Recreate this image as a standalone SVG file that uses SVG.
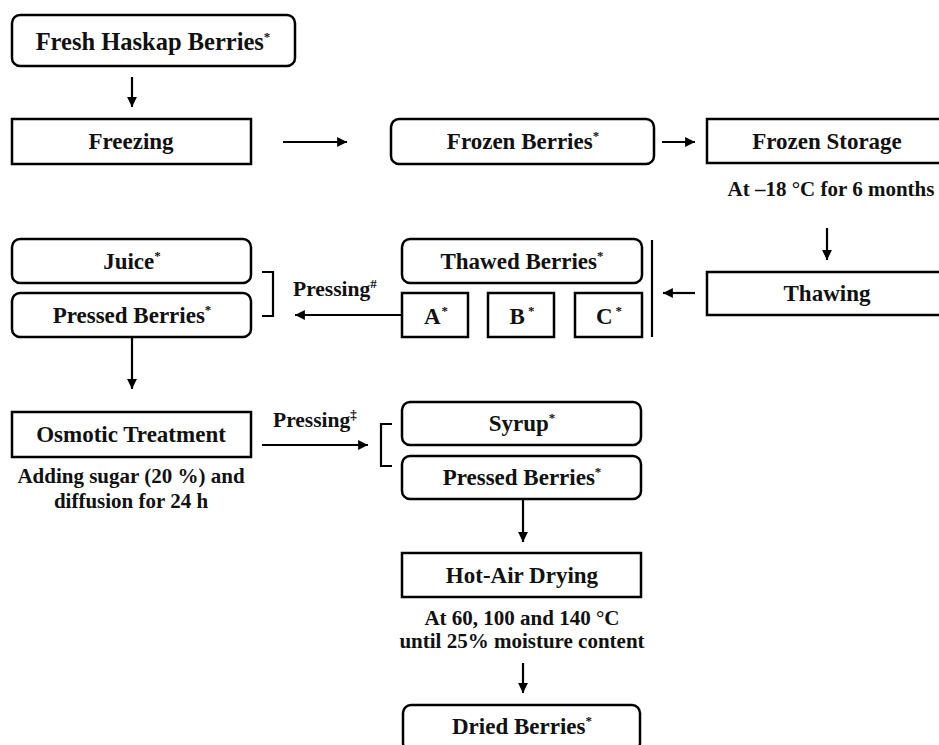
<svg xmlns="http://www.w3.org/2000/svg" width="939" height="745" viewBox="0 0 939 745">
<style>
.b{fill:#fff;stroke:#000;stroke-width:2.5}
.t{font-size:23px;fill:#111;text-anchor:middle}
.s{font-size:21px;fill:#111;text-anchor:middle}
.l{font-size:21.5px;fill:#111}
.sup{font-size:13px}
.c{fill:none;stroke:#000;stroke-width:2.2}
</style>
<defs>
<marker id="ah" viewBox="0 0 10 10" refX="10" refY="5" markerWidth="5" markerHeight="4.5" orient="auto" markerUnits="strokeWidth">
<path d="M0,0 L10,5 L0,10 z" fill="#000"/>
</marker>
</defs>
<rect width="939" height="745" fill="#fff"/>

<g id="connectors">
<line class="c" x1="132" y1="77" x2="132" y2="107" marker-end="url(#ah)"/>
<line class="c" x1="283" y1="142" x2="347" y2="142" marker-end="url(#ah)"/>
<line class="c" x1="662" y1="142" x2="695" y2="142" marker-end="url(#ah)"/>
<line class="c" x1="827" y1="228" x2="827" y2="260" marker-end="url(#ah)"/>
<line class="c" x1="695" y1="293" x2="663" y2="293" marker-end="url(#ah)"/>
<line class="c" x1="652" y1="240" x2="652" y2="337" stroke-width="2.5"/>
<line class="c" x1="402" y1="315" x2="295" y2="315" marker-end="url(#ah)"/>
<path class="c" d="M262,272 H273 V316 H262"/>
<line class="c" x1="132" y1="337" x2="132" y2="389" marker-end="url(#ah)"/>
<line class="c" x1="262" y1="445" x2="368" y2="445" marker-end="url(#ah)"/>
<path class="c" d="M392,424 H381 V466 H392"/>
<line class="c" x1="523" y1="499" x2="523" y2="542" marker-end="url(#ah)"/>
<line class="c" x1="523" y1="663" x2="523" y2="693" marker-end="url(#ah)"/>
</g>

<g id="fresh">
<rect class="b" x="12" y="15" width="283" height="51" rx="8"/>
<text class="t" font-family="'Liberation Serif', serif" font-weight="bold" font-size="24.5" style="font-size:24.5px" x="153" y="50">Fresh Haskap Berries<tspan class="sup" dy="-9">*</tspan></text>
</g>
<g id="freezing">
<rect class="b" x="12" y="119" width="239" height="45"/>
<text class="t" font-family="'Liberation Serif', serif" font-weight="bold" x="131" y="149">Freezing</text>
</g>
<g id="frozen-berries">
<rect class="b" x="391" y="119" width="263" height="45" rx="8"/>
<text class="t" font-family="'Liberation Serif', serif" font-weight="bold" x="523" y="149">Frozen Berries<tspan class="sup" dy="-9">*</tspan></text>
</g>
<g id="frozen-storage">
<rect class="b" x="707" y="119" width="245" height="44"/>
<text class="t" font-family="'Liberation Serif', serif" font-weight="bold" x="827" y="149">Frozen Storage</text>
<text class="s" font-family="'Liberation Serif', serif" font-weight="bold" x="831" y="196">At –18 °C for 6 months</text>
</g>
<g id="thawing">
<rect class="b" x="707" y="272" width="245" height="43"/>
<text class="t" font-family="'Liberation Serif', serif" font-weight="bold" x="827" y="301">Thawing</text>
</g>
<g id="thawed">
<rect class="b" x="402" y="239" width="240" height="44" rx="8"/>
<text class="t" font-family="'Liberation Serif', serif" font-weight="bold" x="522" y="269">Thawed Berries<tspan class="sup" dy="-9">*</tspan></text>
</g>
<g id="a">
<rect class="b" x="402" y="293" width="66" height="44"/>
<text class="t" font-family="'Liberation Serif', serif" font-weight="bold" x="436" y="324">A<tspan class="sup" dx="1" dy="-9">*</tspan></text>
</g>
<g id="b">
<rect class="b" x="488" y="293" width="66" height="44"/>
<text class="t" font-family="'Liberation Serif', serif" font-weight="bold" x="522" y="324">B<tspan class="sup" dx="3" dy="-9">*</tspan></text>
</g>
<g id="c">
<rect class="b" x="575" y="293" width="67" height="44"/>
<text class="t" font-family="'Liberation Serif', serif" font-weight="bold" x="609" y="324">C<tspan class="sup" dx="3" dy="-9">*</tspan></text>
</g>
<g id="juice">
<rect class="b" x="12" y="239" width="239" height="44" rx="8"/>
<text class="t" font-family="'Liberation Serif', serif" font-weight="bold" x="132" y="269">Juice<tspan class="sup" dy="-9">*</tspan></text>
</g>
<g id="pressed1">
<rect class="b" x="12" y="293" width="239" height="44" rx="8"/>
<text class="t" font-family="'Liberation Serif', serif" font-weight="bold" x="132" y="323">Pressed Berries<tspan class="sup" dy="-9">*</tspan></text>
</g>
<g id="pressing1">
<text class="l" font-family="'Liberation Serif', serif" font-weight="bold" x="293" y="296">Pressing<tspan class="sup" dy="-8">#</tspan></text>
</g>
<g id="osmotic">
<rect class="b" x="12" y="412" width="239" height="45"/>
<text class="t" font-family="'Liberation Serif', serif" font-weight="bold" x="131" y="442">Osmotic Treatment</text>
<text class="s" font-family="'Liberation Serif', serif" font-weight="bold" x="131" y="483">Adding sugar (20 %) and</text>
<text class="s" font-family="'Liberation Serif', serif" font-weight="bold" x="131" y="508">diffusion for 24 h</text>
</g>
<g id="pressing2">
<text class="l" font-family="'Liberation Serif', serif" font-weight="bold" x="273" y="427">Pressing<tspan class="sup" dy="-8">‡</tspan></text>
</g>
<g id="syrup">
<rect class="b" x="402" y="402" width="239" height="43" rx="8"/>
<text class="t" font-family="'Liberation Serif', serif" font-weight="bold" x="522" y="431">Syrup<tspan class="sup" dy="-9">*</tspan></text>
</g>
<g id="pressed2">
<rect class="b" x="402" y="456" width="239" height="43" rx="8"/>
<text class="t" font-family="'Liberation Serif', serif" font-weight="bold" x="522" y="485">Pressed Berries<tspan class="sup" dy="-9">*</tspan></text>
</g>
<g id="drying">
<rect class="b" x="402" y="553" width="239" height="44"/>
<text class="t" font-family="'Liberation Serif', serif" font-weight="bold" x="522" y="583">Hot-Air Drying</text>
<text class="s" font-family="'Liberation Serif', serif" font-weight="bold" x="522" y="625">At 60, 100 and 140 °C</text>
<text class="s" font-family="'Liberation Serif', serif" font-weight="bold" x="522" y="648">until 25% moisture content</text>
</g>
<g id="dried">
<rect class="b" x="403" y="705" width="237" height="46" rx="8"/>
<text class="t" font-family="'Liberation Serif', serif" font-weight="bold" x="522" y="734">Dried Berries<tspan class="sup" dy="-9">*</tspan></text>
</g>
</svg>
